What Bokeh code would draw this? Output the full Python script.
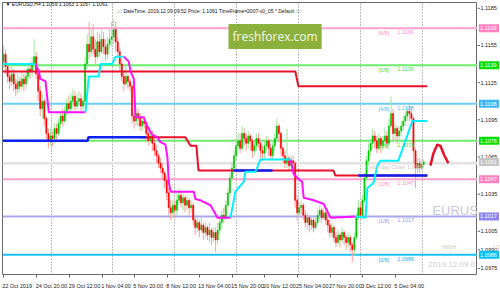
from bokeh.plotting import figure
from bokeh.layouts import row
from bokeh.models import FixedTicker, Label, Range1d
from bokeh.core.properties import value
from bokeh.embed import file_html
from bokeh.resources import INLINE
import numpy as np

# ---------------- data (prices in pips: 11061 = 1.1061) ----------------
first_open = 11142
closes = [11148, 11138, 11130, 11126, 11132, 11124, 11120, 11126, 11122, 11128,
          11124, 11130, 11136, 11134, 11140, 11146, 11132, 11118, 11104, 11110,
          11096, 11084, 11078, 11082, 11080, 11088, 11084, 11092, 11098, 11094,
          11102, 11108, 11104, 11110, 11114, 11106, 11110, 11112, 11106, 11110,
          11140, 11156, 11150, 11162, 11152, 11146, 11158, 11150, 11160, 11154,
          11148, 11156, 11160, 11162, 11168, 11158, 11150, 11140, 11130, 11124,
          11130, 11126, 11122, 11098, 11094, 11100, 11096, 11090, 11094, 11092,
          11084, 11078, 11082, 11076, 11070, 11066, 11060, 11056, 11052, 11046,
          11036, 11024, 11020, 11026, 11022, 11030, 11034, 11028, 11032, 11026,
          11030, 11024, 11026, 11014, 11008, 11012, 11006, 11010, 11004, 11008,
          11002, 11006, 11000, 11004, 10998, 11006, 11012, 11018, 11016, 11026,
          11036, 11048, 11056, 11066, 11074, 11078, 11072, 11084, 11080, 11076,
          11082, 11078, 11070, 11074, 11080, 11076, 11070, 11068, 11074, 11078,
          11072, 11066, 11074, 11080, 11090, 11084, 11072, 11066, 11060, 11064,
          11058, 11062, 11060, 11030, 11020, 11024, 11026, 11018, 11012, 11016,
          11010, 11014, 11008, 11012, 11018, 11022, 11016, 11020, 11014, 11010,
          11004, 11008, 11000, 10996, 11002, 10998, 11004, 11000, 10996, 11000,
          10994, 10990, 11000, 11016, 11024, 11018, 11030, 11048, 11062, 11070,
          11076, 11082, 11078, 11072, 11080, 11074, 11078, 11082, 11076, 11090,
          11100, 11084, 11088, 11082, 11086, 11090, 11094, 11098, 11102, 11100,
          11096, 11070, 11056, 11060, 11056, 11059, 11061]
highs = [11155, 11152, 11140, 11134, 11140, 11136, 11128, 11132, 11130, 11134,
         11132, 11136, 11140, 11142, 11146, 11160, 11150, 11136, 11122, 11116,
         11112, 11098, 11088, 11088, 11086, 11092, 11092, 11096, 11102, 11104,
         11106, 11112, 11114, 11116, 11120, 11118, 11116, 11118, 11116, 11114,
         11146, 11164, 11174, 11170, 11172, 11160, 11166, 11164, 11168, 11166,
         11160, 11162, 11170, 11174, 11176, 11174, 11162, 11154, 11144, 11134,
         11138, 11132, 11128, 11124, 11104, 11106, 11104, 11100, 11098, 11098,
         11094, 11088, 11088, 11086, 11080, 11074, 11068, 11064, 11060, 11054,
         11050, 11040, 11030, 11030, 11030, 11036, 11040, 11038, 11036, 11034,
         11034, 11032, 11030, 11028, 11018, 11016, 11014, 11016, 11012, 11012,
         11010, 11012, 11008, 11008, 11008, 11012, 11016, 11022, 11024, 11030,
         11040, 11052, 11060, 11070, 11080, 11084, 11084, 11090, 11088, 11084,
         11086, 11084, 11080, 11078, 11084, 11084, 11078, 11074, 11078, 11082,
         11080, 11076, 11078, 11084, 11096, 11092, 11086, 11074, 11070, 11088,
         11066, 11066, 11066, 11062, 11034, 11028, 11030, 11028, 11022, 11020,
         11018, 11018, 11016, 11016, 11022, 11026, 11024, 11024, 11022, 11016,
         11014, 11012, 11010, 11004, 11006, 11004, 11008, 11006, 11002, 11004,
         11002, 10996, 11004, 11020, 11030, 11028, 11034, 11052, 11066, 11076,
         11080, 11088, 11086, 11082, 11084, 11082, 11082, 11088, 11086, 11096,
         11114, 11104, 11092, 11090, 11090, 11094, 11098, 11102, 11106, 11108,
         11106, 11098, 11072, 11064, 11064, 11062, 11063]
lows = [11136, 11132, 11125, 11120, 11122, 11118, 11114, 11116, 11118, 11120,
        11118, 11120, 11126, 11128, 11130, 11136, 11128, 11110, 11098, 11096,
        11090, 11078, 11072, 11074, 11074, 11076, 11078, 11082, 11088, 11090,
        11092, 11098, 11100, 11102, 11104, 11102, 11104, 11106, 11102, 11102,
        11106, 11136, 11144, 11146, 11148, 11140, 11144, 11146, 11148, 11148,
        11142, 11144, 11152, 11154, 11156, 11150, 11146, 11134, 11126, 11118,
        11122, 11120, 11118, 11092, 11088, 11090, 11090, 11086, 11086, 11088,
        11078, 11074, 11076, 11070, 11066, 11060, 11056, 11052, 11046, 11040,
        11030, 11018, 11014, 11016, 11016, 11018, 11026, 11024, 11022, 11020,
        11022, 11018, 11020, 11010, 11002, 11004, 11000, 11004, 10998, 11000,
        10998, 10996, 10994, 10996, 10988, 10994, 11002, 11008, 11012, 11014,
        11024, 11034, 11046, 11054, 11062, 11070, 11068, 11070, 11074, 11070,
        11072, 11070, 11064, 11066, 11070, 11072, 11064, 11062, 11064, 11070,
        11066, 11062, 11062, 11070, 11078, 11078, 11066, 11060, 11056, 11056,
        11054, 11054, 11056, 11024, 11014, 11016, 11018, 11014, 11008, 11006,
        11004, 11006, 11004, 11006, 11010, 11014, 11012, 11014, 11010, 11004,
        11000, 11000, 10996, 10992, 10994, 10992, 10996, 10994, 10990, 10992,
        10988, 10980, 10986, 10998, 11014, 11014, 11016, 11028, 11046, 11058,
        11066, 11072, 11072, 11068, 11070, 11068, 11070, 11074, 11072, 11074,
        11088, 11078, 11078, 11076, 11078, 11082, 11086, 11090, 11094, 11094,
        11090, 11060, 11040, 11052, 11052, 11054, 11057]

# Murrey math levels
murrey_names = ["[6/8]", "[5/8]", "[4/8]", "[3/8]", "[2/8]", "[1/8]", "[0/8]"]
murrey_levels = [11169, 11139, 11108, 11078, 11047, 11017, 10986]
yesterday_close = 11060
bid = 11061

# trailing line (cyan = up, magenta = down), breakpoints (bar, pips)
up_xs = [[-0.5, 15.7],
         [40.2, 41.8, 46.7, 47.5, 53.3, 54.9, 59.0],
         [111.3, 113.7, 117.8, 118.6, 123.5, 126.0, 140.7],
         [172.5, 177.5, 178.4, 181.4, 183.3, 184.8, 193.6, 200.5, 207.8]]
up_ys = [[11140, 11140],
         [11101, 11130, 11130, 11140, 11140, 11146, 11146],
         [11016, 11037, 11045, 11053, 11053, 11063, 11063],
         [11017, 11016, 11040, 11044, 11058, 11062, 11062, 11094, 11094]]
down_xs = [[15.7, 17.3, 18.1, 20.6, 22.2, 40.2],
           [59.0, 61.4, 62.3, 63.9, 64.7, 68.8, 70.4, 72.9, 75.3, 77.0, 79.4, 80.4, 81.0,
            81.9, 93.3, 94.1, 96.6, 101.5, 103.9, 104.8, 111.3],
           [140.7, 142.3, 144.8, 146.4, 147.2, 152.1, 157.0, 160.3, 172.5]]
down_ys = [[11140, 11134, 11128, 11126, 11101, 11101],
           [11146, 11142, 11134, 11128, 11097, 11097, 11090, 11083, 11081, 11077, 11075, 11064, 11045,
            11037, 11037, 11031, 11030, 11026, 11019, 11016, 11016],
           [11063, 11051, 11047, 11045, 11032, 11030, 11027, 11016, 11017]]

# resistance / support step lines
red_xs = [[-0.5, 143.1, 144.6, 207.8],
          [67.2, 89.2, 91.7, 94.6, 95.6, 161.8, 162.7, 207.8]]
red_ys = [[11134, 11134, 11122, 11122],
          [11081, 11081, 11074, 11074, 11054, 11054, 11050, 11050]]
blue_xs = [[-0.5, 41.2, 41.7, 70.0], [112.7, 131.9], [174.0, 207.8]]
blue_ys = [[11078, 11078, 11081, 11081], [11054, 11054], [11050, 11050]]

# projected curve
proj_x = [209.3, 210.8, 212.7, 214.2, 216.2, 218.1]
proj_y = [11058, 11068, 11075, 11074, 11066, 11060]

# time axis
tick_bars = [-0.5, 15.7, 31.9, 48.0, 63.7, 79.9, 95.6, 111.8, 127.5, 143.6, 159.8, 175.5, 191.7]
tick_labels = ["22 Oct 2019", "24 Oct 20:00", "29 Oct 12:00", "1 Nov 04:00", "5 Nov 20:00",
               "8 Nov 12:00", "13 Nov 04:00", "15 Nov 20:00", "20 Nov 12:00", "25 Nov 04:00",
               "27 Nov 20:00", "3 Dec 12:00", "5 Dec 04:00"]
week_bars = [23.5, 53.4, 83.8, 114.2, 144.6, 175.0, 205.4]
price_ticks = [11185, 11155, 11125, 11095, 11065, 11035, 11005, 10990, 10975]

# ---------------- styling ----------------
BULL, BEAR = "#00c400", "#ff0000"
BULL_W, BEAR_W = "#9be89b", "#ff9c9c"
murrey_colors = ["#ff9fcf", "#6cec6c", "#6ccdf5", "#6cec6c", "#ff9fcf", "#aaa6ee", "#1cc0f5"]
murrey_text = ["#ff8cc6", "#44dd44", "#55bbee", "#44dd44", "#ff8cc6", "#9a96e6", "#1cb0ee"]
box_colors = ["#ff80c0", "#00e000", "#3cb8f5", "#00e000", "#c4c4c4", "#ff80c0", "#8c86ee", "#00c0f8"]
FONT = "Liberation Sans"

P = lambda v: np.asarray(v, dtype=float) / 10000.0
yr = Range1d(1.09701, 1.11897)

p = figure(width=477, height=291, output_backend="svg", toolbar_location=None,
           x_range=Range1d(-0.5, 232.4), y_range=yr, y_axis_location=None,
           min_border_left=2, min_border_right=0, min_border_top=2, min_border_bottom=13)
p.background_fill_color = "white"
p.border_fill_color = "white"
p.outline_line_color = "#6a6a6a"
p.outline_line_width = 1

# grid: weekly dotted separators only
p.ygrid.visible = False
p.xgrid.ticker = FixedTicker(ticks=week_bars)
p.xgrid.grid_line_color = "#7a7a7a"
p.xgrid.grid_line_dash = "1 2"
p.xgrid.grid_line_width = 1

# bottom axis (labels start at their tick, as in MT4)
char_w = 2.55 / 2.039
centers = [round(b + len(t) * char_w / 2.0 + 0.3, 1) for b, t in zip(tick_bars, tick_labels)]
xa = p.xaxis[0]
xa.ticker = FixedTicker(ticks=centers, minor_ticks=[b + 0.3 for b in tick_bars])
xa.major_label_overrides = {c: t for c, t in zip(centers, tick_labels)}
xa.axis_line_color = None
xa.major_tick_line_color = None
xa.minor_tick_line_color = "#606060"
xa.minor_tick_in = 0
xa.minor_tick_out = 3
xa.major_label_standoff = 2
xa.major_label_text_font = FONT
xa.major_label_text_font_size = "5.5px"
xa.major_label_text_color = "#202020"

# ---------------- horizontal levels ----------------
for lvl, col in zip(murrey_levels, murrey_colors):
    p.line([-0.5, 232.4], [lvl / 1e4, lvl / 1e4], line_color=col, line_width=2)
p.line([-0.5, 232.4], [yesterday_close / 1e4] * 2, line_color="#e2e2e2", line_width=2.5)

# watermark texts (behind candles)
p.text(x=[210.3], y=[P(11022)[()]], text=["EURUS"], text_font=value(FONT),
       text_font_size="13px", text_color="#c9c9d6", text_baseline="middle")
p.text(x=[215.2], y=[P(10992)[()]], text=["HIGH"], text_font=value(FONT),
       text_font_size="5.5px", text_color="#c4c4c4", text_baseline="middle")
p.text(x=[208.3], y=[P(10978)[()]], text=["2019.12.09 0"], text_font=value(FONT),
       text_font_size="8px", text_color="#cdcdcd", text_baseline="middle")

# ---------------- candles ----------------
o = np.array([first_open] + closes[:-1], dtype=float)
c = np.array(closes, dtype=float)
h = np.array(highs, dtype=float)
l = np.array(lows, dtype=float)
idx = np.arange(len(c))
up = c >= o
for mask, wc, bc in [(up, BULL_W, BULL), (~up, BEAR_W, BEAR)]:
    xs = idx[mask]
    p.segment(x0=xs, y0=P(l[mask]), x1=xs, y1=P(h[mask]), line_color=wc, line_width=1)
    top = np.maximum(o[mask], c[mask])
    bot = np.minimum(o[mask], c[mask])
    bot = np.where(top - bot < 1, bot - 0.5, bot)
    p.vbar(x=xs, width=0.6, top=P(top), bottom=P(bot), fill_color=bc, line_color=bc, line_width=0.5)

# ---------------- indicator lines ----------------
p.multi_line(xs=red_xs, ys=[list(P(v)) for v in red_ys], line_color="#e8102a", line_width=2)
p.multi_line(xs=blue_xs, ys=[list(P(v)) for v in blue_ys], line_color="#1020f0", line_width=2.5)
p.multi_line(xs=down_xs, ys=[list(P(v)) for v in down_ys], line_color="#ff10ff", line_width=2)
p.multi_line(xs=up_xs, ys=[list(P(v)) for v in up_ys], line_color="#00f0ff", line_width=2)
p.line(proj_x, P(proj_y), line_color="#e8102a", line_width=2.5)

# level labels
lab_x1 = [183.8] * len(murrey_levels)
lab_x2 = [193.1] * len(murrey_levels)
p.text(x=lab_x1, y=P(murrey_levels), text=murrey_names, text_font=value(FONT),
       text_font_size="5.5px", text_color=murrey_text, text_baseline="top", y_offset=2)
p.text(x=lab_x2, y=P(murrey_levels), text=[f"{v / 1e4:.4f}" for v in murrey_levels],
       text_font=value(FONT), text_font_size="5.5px", text_color=murrey_text,
       text_baseline="top", y_offset=2)
p.text(x=[177.5], y=[P(yesterday_close)[()]], text=[f"Yesterday Close  {yesterday_close / 1e4:.4f}"],
       text_font=value(FONT), text_font_size="5.5px", text_color="#c8c8c8",
       text_baseline="top", y_offset=1)

# header texts
p.add_layout(Label(x=3, y=271, x_units="screen", y_units="screen",
                   text="\u25bc  EURUSD,H4  1.1059 1.1063 1.1057 1.1061", text_font=FONT,
                   text_font_size="5px", text_color="#101010", text_baseline="middle"))
p.add_layout(Label(x=114, y=264, x_units="screen", y_units="screen",
                   text=":::: DateTime: 2019.12.09 09:52    Price: 1.1061    TimeFrame=2007-v0_05    * Default ::::",
                   text_font=FONT, text_font_size="5px", text_color="#101010",
                   text_baseline="middle"))
# chart-shift marker at the top edge
p.add_layout(Label(x=426, y=273, x_units="screen", y_units="screen", text="\u25bc",
                   text_font=FONT, text_font_size="5px", text_color="#8a8a8a",
                   text_baseline="middle"))

# logo
p.add_layout(Label(x=226, y=238, x_units="screen", y_units="screen", text="freshforex.com",
                   text_font="Open Sans", text_font_size="12px", text_color="#f4f8ee",
                   text_baseline="middle", background_fill_color="#8cb03c", padding=4))

# ---------------- right price scale (shares the price scale) ----------------
s = figure(width=23, height=291, output_backend="svg", toolbar_location=None,
           x_range=Range1d(0, 23), y_range=yr, x_axis_location=None, y_axis_location=None,
           min_border_left=0, min_border_right=0, min_border_top=2, min_border_bottom=13)
s.outline_line_color = None
s.background_fill_color = "white"
s.border_fill_color = "white"
s.xgrid.visible = False
s.ygrid.visible = False
s.segment(x0=[0] * len(price_ticks), y0=P(price_ticks), x1=[2.5] * len(price_ticks), y1=P(price_ticks),
          line_color="#606060", line_width=1)
s.text(x=[3] * len(price_ticks), y=P(price_ticks), text=[f"{v / 1e4:.4f}" for v in price_ticks],
       text_font=value(FONT), text_font_size="5.5px", text_color="#202020", text_baseline="middle")
s.text(x=[16], y=[P(10992)[()]], text=["LO"], text_font=value(FONT),
       text_font_size="5.5px", text_color="#c4c4c4", text_baseline="middle")
box_vals = murrey_levels[:4] + [bid] + murrey_levels[4:]
s.rect(x=[11.5] * len(box_vals), y=P(box_vals), width=20, height=8, height_units="screen",
       fill_color=box_colors, line_color=None)
s.text(x=[2.6] * len(box_vals), y=P(box_vals), text=[f"{v / 1e4:.4f}" for v in box_vals],
       text_font=value(FONT), text_font_size="5.5px", text_color="white", text_baseline="middle")

layout = row(p, s, spacing=0)
open("out.html", "w").write(file_html(layout, INLINE))
